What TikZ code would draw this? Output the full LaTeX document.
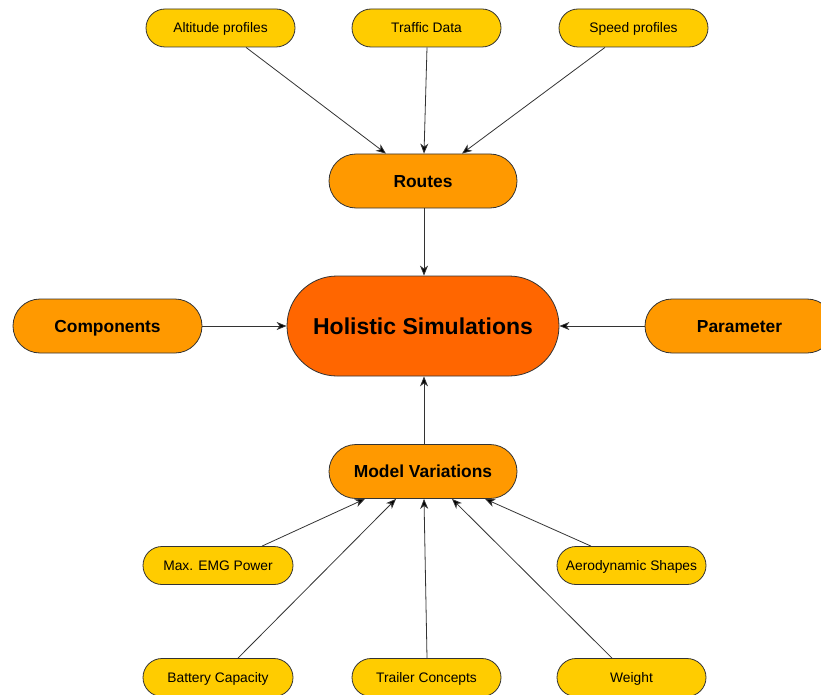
\documentclass[tikz,border=0pt]{standalone}
\usepackage{fontspec}
\setmainfont{Liberation Sans}
\usetikzlibrary{arrows.meta}
\definecolor{cLeaf}{HTML}{FFCC00}
\definecolor{cMid}{HTML}{FF9900}
\definecolor{cCore}{HTML}{FF6600}
\definecolor{cEdge}{HTML}{333333}
\tikzset{
  pill/.style={draw=cEdge, line width=0.8pt, inner sep=0pt, align=center},
  leaf/.style={pill, fill=cLeaf, minimum width=149pt, minimum height=38pt, rounded corners=19pt, font=\fontsize{13.8}{15}\selectfont, text height=10.2pt, text depth=0.3pt},
  mid/.style={pill, fill=cMid, minimum width=188pt, minimum height=54pt, rounded corners=27pt, font=\fontsize{17.4}{19}\selectfont\bfseries, text height=12.8pt, text depth=0.34pt},
  core/.style={pill, fill=cCore, minimum width=272pt, minimum height=100pt, rounded corners=50pt, font=\fontsize{23}{26}\selectfont\bfseries, text height=17pt, text depth=0.5pt},
  arr/.style={draw=cEdge, line width=0.8pt, -{Stealth[length=10pt,width=8pt,inset=3pt,fill=black]}}
}
\begin{document}
\begin{tikzpicture}[x=1pt,y=-1pt]
\useasboundingbox (0,0) rectangle (821,695);
\node[leaf] (alt) at (220.5,28) {Altitude profiles};
\node[leaf] (traffic) at (426.5,28) {Traffic Data};
\node[leaf] (speed) at (633.5,28) {Speed profiles};
\node[mid] (routes) at (423,181) {Routes};
\node[core] (holistic) at (423,326) {Holistic Simulations};
\node[mid, minimum width=189pt] (comp) at (107.5,326) {Components};
\node[mid, minimum width=189pt] (param) at (739.5,326) {Parameter};
\node[mid] (model) at (423,471.5) {Model Variations};
\node[leaf, minimum width=150pt] (emg) at (218,565.5) {Max. EMG Power};
\node[leaf] (aero) at (631.5,565.5) {Aerodynamic Shapes};
\node[leaf, minimum width=150pt] (battery) at (218,677.5) {Battery Capacity};
\node[leaf] (trailer) at (426.5,677.5) {Trailer Concepts};
\node[leaf] (weight) at (631.5,677.5) {Weight};

\draw[arr] ([xshift=25.5pt]alt.south) -- ([xshift=-37pt]routes.north);
\draw[arr] ([xshift=0.5pt]traffic.south) -- ([xshift=1pt]routes.north);
\draw[arr] ([xshift=-28.5pt]speed.south) -- ([xshift=39pt]routes.north);
\draw[arr] ([xshift=1pt]routes.south) -- ([xshift=1pt]holistic.north);
\draw[arr] (comp.east) -- (holistic.west);
\draw[arr] (param.west) -- (holistic.east);
\draw[arr] ([xshift=1pt]model.north) -- ([xshift=1pt]holistic.south);
\draw[arr] ([xshift=44pt]emg.north) -- ([xshift=-58pt]model.south);
\draw[arr] ([xshift=20pt]battery.north) -- ([xshift=-27pt]model.south);
\draw[arr] ([xshift=0.5pt]trailer.north) -- ([xshift=1pt]model.south);
\draw[arr] ([xshift=-19.5pt]weight.north) -- ([xshift=29pt]model.south);
\draw[arr] ([xshift=-40.5pt]aero.north) -- ([xshift=62pt]model.south);
\end{tikzpicture}
\end{document}
